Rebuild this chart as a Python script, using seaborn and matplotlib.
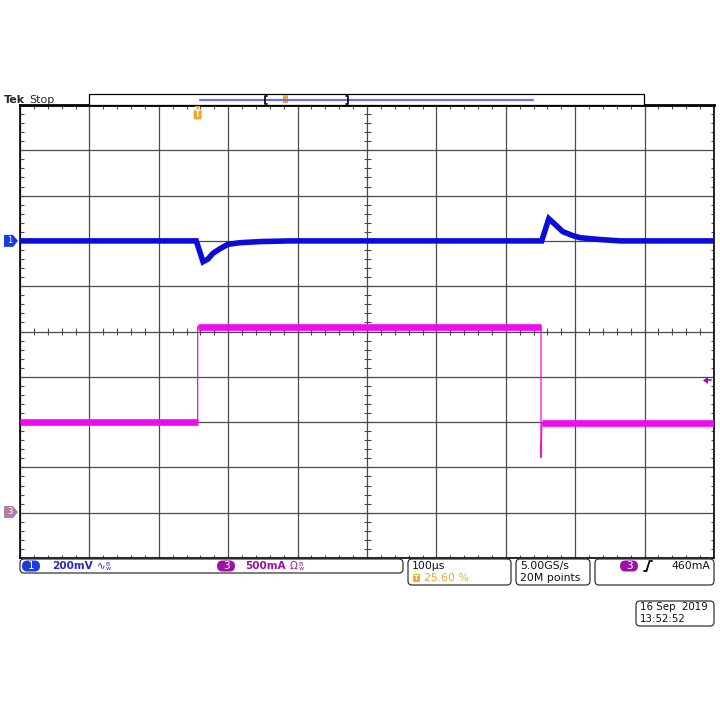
import numpy as np
import pandas as pd
import matplotlib
matplotlib.use("Agg")
import matplotlib.pyplot as plt
import seaborn as sns
from matplotlib.patches import FancyBboxPatch, Polygon, Rectangle

ch1_time_us = [-256, -2, 7.7, 14.9, 22, 32, 43.7, 61, 90, 133,
               495.7, 506, 516, 526, 540.8, 551, 580, 608.6, 744]
ch1_mv = [0, 0, -92, -80, -55, -35, -15, -8, -3, 0,
          0, 98, 70, 41, 23, 14, 6, 0, 0]

ch3_time_us = [-256, 0, 0, 494.7, 494.7, 496, 744]
ch3_ma = [0, 0, 1055, 1055, -390, -15, -15]

ch1_scale_mv = 200      # mV/div
ch1_position = 2.0      # div
ch3_scale_ma = 500      # mA/div
ch3_position = -2.0     # div
time_scale_us = 100     # us/div
trigger_pos_pct = 25.60
trigger_level_ma = 460

ch1_label = "200mV"
ch3_label = "500mA"
timebase_label = "100µs"
trigpos_label = "25.60 %"
rate_label = "5.00GS/s"
points_label = "20M points"
trig_label = "460mA"
date_label = "16 Sep  2019"
time_label = "13:52:52"

# ---------------- figure ----------------
sns.set_style("white")
plt.rcParams["font.family"] = ["DejaVu Sans"]

W = H = 720
fig = plt.figure(figsize=(7.2, 7.2), dpi=100)
L, T, PW, PH = 20, 105, 694, 453
ax = fig.add_axes([L / W, 1 - (T + PH) / H, PW / W, PH / H])

t0 = -trigger_pos_pct / 100 * 10 * time_scale_us
t1 = t0 + 10 * time_scale_us
ax.set_xlim(t0, t1)
ax.set_ylim(-5, 5)

GRID = "#4a4a4a"
ax.set_xticks(t0 + np.arange(11) * time_scale_us)
ax.set_yticks(np.arange(-5, 6))
ax.grid(True, color=GRID, lw=0.9)
ax.tick_params(length=0, labelbottom=False, labelleft=False)
for s in ax.spines.values():
    s.set_color("black")
    s.set_linewidth(1.2)
ax.spines["top"].set_linewidth(2.0)

# minor ticks on edges and center lines
px_x = time_scale_us / (PW / 10)
px_y = 1 / (PH / 10)
tl = 3.5
minor_x = t0 + np.arange(0, 51) * time_scale_us / 5
minor_y = np.arange(-25, 26) * 0.2
tc = t0 + 5 * time_scale_us
kw = dict(color=GRID, lw=0.8, zorder=2)
ax.vlines(minor_x, 5 - tl * px_y, 5, **kw)
ax.vlines(minor_x, -5, -5 + tl * px_y, **kw)
ax.vlines(minor_x, -tl * px_y, tl * px_y, **kw)
ax.hlines(minor_y, t0, t0 + tl * px_x, **kw)
ax.hlines(minor_y, t1 - tl * px_x, t1, **kw)
ax.hlines(minor_y, tc - tl * px_x, tc + tl * px_x, **kw)

# ---------------- traces ----------------
BLUE = "#0B0BDC"
MAG = "#F00AF0"
df1 = pd.DataFrame({"t": ch1_time_us,
                    "div": np.array(ch1_mv) / ch1_scale_mv + ch1_position})
sns.lineplot(data=df1, x="t", y="div", ax=ax, color=BLUE, lw=4.0,
             estimator=None, sort=False, zorder=4, legend=False,
             solid_capstyle="butt", solid_joinstyle="miter")

df3 = pd.DataFrame({"t": ch3_time_us,
                    "div": np.array(ch3_ma) / ch3_scale_ma + ch3_position})
sns.lineplot(data=df3, x="t", y="div", ax=ax, color=MAG, lw=0.9,
             estimator=None, sort=False, zorder=4, legend=False)
# flat portions drawn as the thick noise band
segs = []
for i in range(len(ch3_time_us) - 1):
    if ch3_ma[i] == ch3_ma[i + 1] and ch3_time_us[i + 1] > ch3_time_us[i]:
        segs.append(pd.DataFrame({"t": [ch3_time_us[i], ch3_time_us[i + 1]],
                                  "div": [ch3_ma[i] / ch3_scale_ma + ch3_position] * 2,
                                  "seg": i}))
dfs = pd.concat(segs)
sns.lineplot(data=dfs, x="t", y="div", units="seg", ax=ax, color=MAG, lw=4.8,
             estimator=None, sort=False, zorder=4, legend=False,
             solid_capstyle="butt")
ax.set_xlabel("")
ax.set_ylabel("")

# ---------------- overlay (pixel coordinates) ----------------
ov = fig.add_axes([0, 0, 1, 1], zorder=10)
ov.set_xlim(0, W)
ov.set_ylim(H, 0)
ov.axis("off")
ov.patch.set_alpha(0)

def ypix(div):
    return T + PH / 2 - div * PH / 10

def xpix(t):
    return L + (t - t0) / (t1 - t0) * PW

ORANGE = "#F5A623"

# top record bar
ov.add_patch(Rectangle((89, 94), 555, 11, fc="white", ec="black", lw=0.9))
ov.plot([200, 533], [99.5, 99.5], color="#7070E0", lw=1.6)
ov.plot([267, 265, 265, 267], [95.5, 95.5, 103.5, 103.5], color="black", lw=1.2)
ov.plot([346, 348, 348, 346], [95.5, 95.5, 103.5, 103.5], color="black", lw=1.2)
ov.add_patch(Rectangle((283, 95), 4.5, 8, fc=ORANGE, ec="none"))
ov.text(4, 100, "Tek", fontsize=8, fontweight="bold", va="center", ha="left")
ov.text(29.5, 100, "Stop", fontsize=8, va="center", ha="left")

# trigger position marker
xt = xpix(0)
ov.add_patch(Polygon([[xt - 3, 106], [xt + 3, 106], [xt, 109]], closed=True, fc=ORANGE, ec="none"))
ov.add_patch(FancyBboxPatch((xt - 4, 109.5), 8, 10, boxstyle="round,pad=0,rounding_size=2",
                            fc=ORANGE, ec="none"))
ov.text(xt, 114.5, "T", color="white", fontsize=5.5, fontweight="bold", ha="center", va="center")

# channel markers
def marker(y, color, label):
    ov.add_patch(Polygon([[4, y - 6], [13, y - 6], [18, y], [13, y + 6], [4, y + 6]],
                         closed=True, fc=color, ec="none"))
    ov.text(10, y, label, color="white", fontsize=6, ha="center", va="center")

marker(ypix(ch1_position), "#1A3AE6", "1")
marker(512, "#A882AA", "3")

# trigger level arrow on the right
yt = ypix(trigger_level_ma / ch3_scale_ma + ch3_position)
ov.add_patch(Polygon([[703, yt], [708, yt - 3.5], [708, yt + 3.5]], closed=True, fc="#B000B0", ec="none"))
ov.plot([707, 711], [yt, yt], color="#B000B0", lw=1.2)

# bottom info boxes
def box(x0, y0, x1, y1):
    ov.add_patch(FancyBboxPatch((x0, y0), x1 - x0, y1 - y0,
                                boxstyle="round,pad=0,rounding_size=4",
                                fc="white", ec="#333333", lw=0.9))

def pill(cx, cy, color, label):
    ov.add_patch(FancyBboxPatch((cx - 9, cy - 5.5), 18, 11,
                                boxstyle="round,pad=0,rounding_size=5.5",
                                fc=color, ec="none"))
    ov.text(cx, cy, label, color="white", fontsize=7.5, ha="center", va="center")

FS = 7.8
box(20, 559, 403, 573)
pill(31, 566, "#1A3AE6", "1")
ov.text(52, 566, ch1_label, color="#2828C8", fontsize=7.6, fontweight="bold", va="center")
ov.text(97, 566, "∿", color="#2828C8", fontsize=7.5, va="center")
ov.text(105, 564, "B", color="#2828C8", fontsize=4.5, va="center")
ov.text(106, 568.5, "w", color="#2828C8", fontsize=4.5, va="center")
pill(226, 566, "#A010A8", "3")
ov.text(245, 566, ch3_label, color="#A010A8", fontsize=7.6, fontweight="bold", va="center")
ov.text(290, 566, "Ω", color="#A010A8", fontsize=7.5, va="center")
ov.text(298, 564, "B", color="#A010A8", fontsize=4.5, va="center")
ov.text(299, 568.5, "w", color="#A010A8", fontsize=4.5, va="center")

box(408, 559, 511, 585)
ov.text(412, 566, timebase_label, fontsize=FS, va="center", color="#111111")
ov.add_patch(FancyBboxPatch((413, 574), 7, 8, boxstyle="round,pad=0,rounding_size=1.5",
                            fc=ORANGE, ec="none"))
ov.text(416.5, 578, "T", color="white", fontsize=5, fontweight="bold", ha="center", va="center")
ov.text(424, 578, trigpos_label, color=ORANGE, fontsize=FS, va="center")

box(516, 559, 590, 585)
ov.text(520, 566, rate_label, fontsize=FS, va="center", color="#111111")
ov.text(520, 578, points_label, fontsize=FS, va="center", color="#111111")

box(595, 559, 714, 585)
pill(629, 566, "#A010A8", "3")
ov.plot([644, 646.5, 649.5, 652], [571, 571, 561, 561], color="black", lw=1.3)
ov.text(710, 566, trig_label, fontsize=FS, va="center", ha="right", color="#111111")

box(636, 601, 714, 626)
ov.text(640, 607.5, date_label, fontsize=7.4, va="center", color="#111111")
ov.text(640, 619.5, time_label, fontsize=7.4, va="center", color="#111111")

fig.savefig("out.png", dpi=100)
